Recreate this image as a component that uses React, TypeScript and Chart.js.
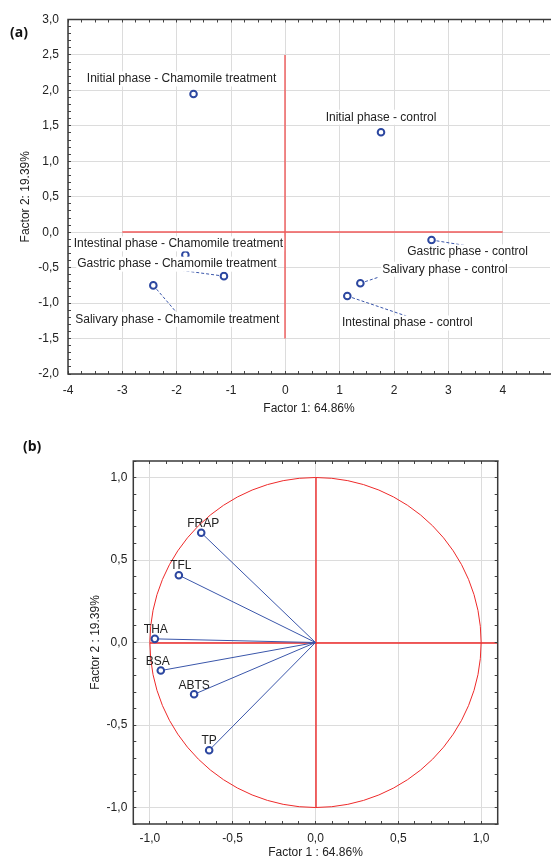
import React, { useEffect, useRef } from 'react';
import { Chart, registerables } from 'chart.js';

Chart.register(...registerables);

// ---------- Panel (a): factor scores ----------
const scoreLabels = [
  'Initial phase - Chamomile treatment',
  'Initial phase - control',
  'Gastric phase - control',
  'Salivary phase - control',
  'Intestinal phase - control',
  'Intestinal phase - Chamomile treatment',
  'Gastric phase - Chamomile treatment',
  'Salivary phase - Chamomile treatment',
];
const scoreF1 = [-1.69, 1.76, 2.69, 1.38, 1.14, -1.84, -1.13, -2.43];
const scoreF2 = [1.95, 1.41, -0.11, -0.72, -0.9, -0.32, -0.62, -0.75];
const scoreXTicks = [-4, -3, -2, -1, 0, 1, 2, 3, 4];
const scoreYTicks = [-2, -1.5, -1, -0.5, 0, 0.5, 1, 1.5, 2, 2.5, 3];
const crossF1 = [-3, 4];
const crossF2 = [-1.5, 2.5];

// ---------- Panel (b): factor loadings ----------
const loadingLabels = ['FRAP', 'TFL', 'THA', 'BSA', 'ABTS', 'TP'];
const loadingF1 = [-0.69, -0.825, -0.97, -0.934, -0.733, -0.642];
const loadingF2 = [0.665, 0.408, 0.022, -0.17, -0.314, -0.653];
const loadingTicks = [-1, -0.5, 0, 0.5, 1];
const axisLineF1 = [-1, 1.1];
const axisLineF2 = [-1, 1];

// ---------- styling / label placement (pixels) ----------
const FONT = '"Liberation Sans", Arial, sans-serif';
const TEXT = '#222222';
const GRID = '#dcdcdc';
const BLUE = '#2c47a0';
const LINE_BLUE = '#3a56aa';
const RED_A = '#f05a5a';
const RED_B = '#ee2a2a';

const scoreLabelOffsets: number[][] = [
  [-12, -15], [0, -15], [36, 12], [84.5, -14], [60, 27], [-7, -11], [-47, -12], [24, 34],
];
const scoreLeaderEnds: (number[] | null)[] = [
  null, null, [37, 6], [18, -6], [59, 20], null, [-44, -6], [24, 28],
];
const loadingLabelOffsets: number[][] = [
  [2, -9], [2, -9], [1, -9.5], [-3, -9], [0, -9], [0, -10],
];

const commaFmt = (v: number) => v.toFixed(1).replace('.', ',');
const align = (p: number) => Math.round(p - 0.5) + 0.5;

function frameTicksPlugin(id: string, xStep: number, yStep: number, drawRight: boolean) {
  return {
    id,
    afterDraw(chart: any) {
      const { ctx, chartArea, scales } = chart;
      const { left, right, top, bottom } = chartArea;
      const x = scales.x;
      const y = scales.y;
      ctx.save();
      ctx.strokeStyle = '#444';
      ctx.lineWidth = 1;
      ctx.beginPath();
      const nx0 = Math.ceil(x.min / xStep - 1e-9);
      const nx1 = Math.floor(x.max / xStep + 1e-9);
      for (let n = nx0; n <= nx1; n++) {
        const px = align(x.getPixelForValue(n * xStep));
        ctx.moveTo(px, top);
        ctx.lineTo(px, top + 3);
        ctx.moveTo(px, bottom);
        ctx.lineTo(px, bottom - 3);
      }
      const ny0 = Math.ceil(y.min / yStep - 1e-9);
      const ny1 = Math.floor(y.max / yStep + 1e-9);
      for (let n = ny0; n <= ny1; n++) {
        const py = align(y.getPixelForValue(n * yStep));
        ctx.moveTo(left, py);
        ctx.lineTo(left + 3, py);
        if (drawRight) {
          ctx.moveTo(right, py);
          ctx.lineTo(right - 3, py);
        }
      }
      ctx.stroke();
      ctx.strokeStyle = '#3a3a3a';
      ctx.lineWidth = 1.5;
      ctx.beginPath();
      ctx.moveTo(right + 1, top);
      ctx.lineTo(left, top);
      ctx.lineTo(left, bottom);
      ctx.lineTo(right + 1, bottom);
      if (drawRight) {
        ctx.moveTo(right, top);
        ctx.lineTo(right, bottom);
      }
      ctx.stroke();
      ctx.restore();
    },
  };
}

function labelsPlugin(
  id: string,
  labels: string[],
  xs: number[],
  ys: number[],
  offsets: number[][],
  leaders: (number[] | null)[] | null,
  background: boolean,
) {
  return {
    id,
    beforeDatasetsDraw(chart: any) {
      if (!leaders) return;
      const { ctx, scales } = chart;
      ctx.save();
      ctx.strokeStyle = LINE_BLUE;
      ctx.lineWidth = 1;
      ctx.setLineDash([3, 2]);
      leaders.forEach((end, i) => {
        if (!end) return;
        const px = scales.x.getPixelForValue(xs[i]);
        const py = scales.y.getPixelForValue(ys[i]);
        const len = Math.hypot(end[0], end[1]);
        const sx = px + (end[0] / len) * 5;
        const sy = py + (end[1] / len) * 5;
        ctx.beginPath();
        ctx.moveTo(sx, sy);
        ctx.lineTo(px + end[0], py + end[1]);
        ctx.stroke();
      });
      ctx.restore();
    },
    afterDatasetsDraw(chart: any) {
      const { ctx, scales } = chart;
      ctx.save();
      ctx.font = `12px ${FONT}`;
      ctx.textAlign = 'center';
      ctx.textBaseline = 'middle';
      labels.forEach((t, i) => {
        const px = scales.x.getPixelForValue(xs[i]) + offsets[i][0];
        const py = scales.y.getPixelForValue(ys[i]) + offsets[i][1];
        if (background) {
          const w = ctx.measureText(t).width;
          ctx.fillStyle = '#ffffff';
          ctx.fillRect(px - w / 2 - 1, py - 7.5, w + 2, 15);
        }
        ctx.fillStyle = TEXT;
        ctx.fillText(t, px, py);
      });
      ctx.restore();
    },
  };
}

// red reference cross (and optionally the unit circle) drawn through the scales
function crossPlugin(id: string, hRange: number[], vRange: number[], color: string, circle: boolean) {
  return {
    id,
    beforeDatasetsDraw(chart: any) {
      const { ctx, scales } = chart;
      const cx = scales.x.getPixelForValue(0);
      const cy = scales.y.getPixelForValue(0);
      ctx.save();
      ctx.strokeStyle = color;
      ctx.lineWidth = 1;
      if (circle) {
        const rx = scales.x.getPixelForValue(1) - cx;
        const ry = cy - scales.y.getPixelForValue(1);
        ctx.beginPath();
        ctx.ellipse(cx, cy, rx, ry, 0, 0, Math.PI * 2);
        ctx.stroke();
      }
      ctx.lineWidth = 1.4;
      const vx = Math.round(cx);
      const hy = Math.round(cy);
      ctx.beginPath();
      ctx.moveTo(scales.x.getPixelForValue(hRange[0]), hy);
      ctx.lineTo(scales.x.getPixelForValue(hRange[1]), hy);
      ctx.moveTo(vx, scales.y.getPixelForValue(vRange[0]));
      ctx.lineTo(vx, scales.y.getPixelForValue(vRange[1]));
      ctx.stroke();
      ctx.restore();
    },
  };
}

const tickFont = { family: FONT, size: 12 };

function ScoresChart() {
  const ref = useRef<HTMLCanvasElement>(null);
  useEffect(() => {
    const chart = new Chart(ref.current as HTMLCanvasElement, {
      type: 'scatter',
      data: {
        datasets: [
          {
            data: scoreF1.map((v, i) => ({ x: v, y: scoreF2[i] })),
            pointRadius: 3.3,
            pointBorderWidth: 2,
            pointBorderColor: BLUE,
            pointBackgroundColor: '#ffffff',
          } as any,
        ],
      },
      options: {
        responsive: false,
        animation: false,
        events: [],
        layout: { padding: { left: 0, right: 0, top: 19.5, bottom: 0 } },
        plugins: { legend: { display: false }, tooltip: { enabled: false } },
        scales: {
          x: {
            type: 'linear',
            min: -4,
            max: 4.87,
            afterBuildTicks: (s: any) => {
              s.ticks = scoreXTicks.map((v) => ({ value: v }));
            },
            afterFit: (s: any) => {
              s.height = 51;
            },
            grid: { color: GRID, drawTicks: false, lineWidth: 1 },
            border: { display: false },
            ticks: {
              padding: 9,
              font: tickFont,
              color: TEXT,
              maxRotation: 0,
              autoSkip: false,
              callback: (v: any) => String(v),
            },
            title: {
              display: true,
              text: 'Factor 1: 64.86%',
              font: tickFont,
              color: TEXT,
              padding: { top: 0, bottom: 8.8 },
            },
          },
          y: {
            type: 'linear',
            min: -2,
            max: 3,
            afterBuildTicks: (s: any) => {
              s.ticks = scoreYTicks.map((v) => ({ value: v }));
            },
            afterFit: (s: any) => {
              s.width = 68;
            },
            grid: { color: GRID, drawTicks: false, lineWidth: 1 },
            border: { display: false },
            ticks: {
              padding: 9,
              font: tickFont,
              color: TEXT,
              autoSkip: false,
              callback: (v: any) => commaFmt(Number(v)),
            },
            title: {
              display: true,
              text: 'Factor 2: 19.39%',
              font: tickFont,
              color: TEXT,
              padding: { top: 18.8, bottom: 0 },
            },
          },
        },
      },
      plugins: [
        crossPlugin('scoreCross', crossF1, crossF2, RED_A, false),
        labelsPlugin('scoreLabels', scoreLabels, scoreF1, scoreF2, scoreLabelOffsets, scoreLeaderEnds, true),
        frameTicksPlugin('scoreFrame', 0.25, 0.1, false),
      ],
    });
    return () => chart.destroy();
  }, []);
  return (
    <canvas
      ref={ref}
      width={556}
      height={425}
      style={{ position: 'absolute', left: 0, top: 0, width: 556, height: 425 }}
    />
  );
}

function LoadingsChart() {
  const ref = useRef<HTMLCanvasElement>(null);
  useEffect(() => {
    const vectorSets = loadingF1.map((v, i) => ({
      data: [
        { x: 0, y: 0 },
        { x: v, y: loadingF2[i] },
      ],
      showLine: true,
      pointRadius: 0,
      borderColor: LINE_BLUE,
      borderWidth: 1,
      order: 1,
    }));
    const chart = new Chart(ref.current as HTMLCanvasElement, {
      type: 'scatter',
      data: {
        datasets: [
          {
            data: loadingF1.map((v, i) => ({ x: v, y: loadingF2[i] })),
            pointRadius: 3.3,
            pointBorderWidth: 2,
            pointBorderColor: BLUE,
            pointBackgroundColor: '#ffffff',
            order: 0,
          } as any,
          ...vectorSets,
        ],
      },
      options: {
        responsive: false,
        animation: false,
        events: [],
        layout: { padding: { left: 0, right: 58.3, top: 31, bottom: 0 } },
        plugins: { legend: { display: false }, tooltip: { enabled: false } },
        scales: {
          x: {
            type: 'linear',
            min: -1.1,
            max: 1.1,
            afterBuildTicks: (s: any) => {
              s.ticks = loadingTicks.map((v) => ({ value: v }));
            },
            afterFit: (s: any) => {
              s.height = 37;
            },
            grid: { color: GRID, drawTicks: false, lineWidth: 1 },
            border: { display: false },
            ticks: {
              padding: 7,
              font: tickFont,
              color: TEXT,
              maxRotation: 0,
              autoSkip: false,
              callback: (v: any) => commaFmt(Number(v)),
            },
            title: {
              display: true,
              text: 'Factor 1 : 64.86%',
              font: tickFont,
              color: TEXT,
              padding: { top: 0, bottom: 1.4 },
            },
          },
          y: {
            type: 'linear',
            min: -1.1,
            max: 1.1,
            afterBuildTicks: (s: any) => {
              s.ticks = loadingTicks.map((v) => ({ value: v }));
            },
            afterFit: (s: any) => {
              s.width = 133.3;
            },
            grid: { color: GRID, drawTicks: false, lineWidth: 1 },
            border: { display: false },
            ticks: {
              padding: 6,
              font: tickFont,
              color: TEXT,
              autoSkip: false,
              callback: (v: any) => commaFmt(Number(v)),
            },
            title: {
              display: true,
              text: 'Factor 2 : 19.39%',
              font: tickFont,
              color: TEXT,
              padding: { top: 88.8, bottom: 0 },
            },
          },
        },
      },
      plugins: [
        crossPlugin('loadingCross', axisLineF1, axisLineF2, RED_B, true),
        labelsPlugin('loadingLabels', loadingLabels, loadingF1, loadingF2, loadingLabelOffsets, null, false),
        frameTicksPlugin('loadingFrame', 0.1, 0.1, true),
      ],
    });
    return () => chart.destroy();
  }, []);
  return (
    <canvas
      ref={ref}
      width={556}
      height={431}
      style={{ position: 'absolute', left: 0, top: 430, width: 556, height: 431 }}
    />
  );
}

const panelTag: React.CSSProperties = {
  position: 'absolute',
  fontFamily: '"Open Sans", "DejaVu Sans", sans-serif',
  fontWeight: 700,
  fontSize: 14,
  lineHeight: '20px',
  color: '#111',
};

export default function App() {
  return (
    <div
      style={{
        position: 'absolute',
        left: 0,
        top: 0,
        width: 556,
        height: 861,
        overflow: 'hidden',
        background: '#ffffff',
      }}
    >
      <ScoresChart />
      <LoadingsChart />
      <div style={{ ...panelTag, left: 10, top: 22 }}>(a)</div>
      <div style={{ ...panelTag, left: 23, top: 436 }}>(b)</div>
    </div>
  );
}
